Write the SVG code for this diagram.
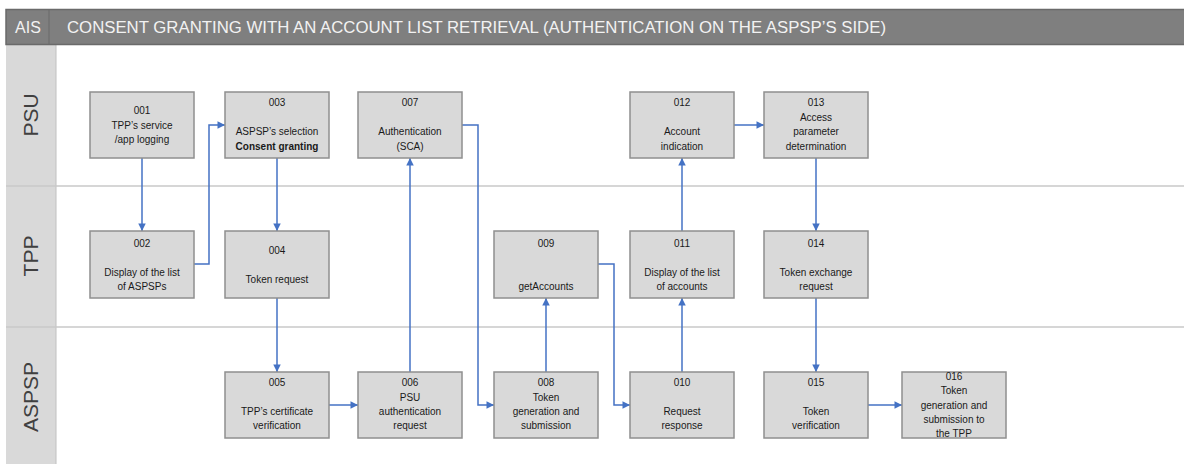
<svg xmlns="http://www.w3.org/2000/svg" width="1184" height="464" viewBox="0 0 1184 464">
<style>
.box{fill:#d9d9d9;stroke:#8f8f8f;stroke-width:1.5}
.t{font-family:"Liberation Sans",Arial,sans-serif;font-size:10px;fill:#1a1a1a;text-anchor:middle}
.b{font-weight:bold}
.lane{font-family:"Liberation Sans",Arial,sans-serif;font-size:21px;fill:#404040;text-anchor:middle}
.hdr{font-family:"Liberation Sans",Arial,sans-serif;font-size:16px;fill:#f2f2f2}
.c{fill:none;stroke:#4472c4;stroke-width:1.5}
.sep{stroke:#c8c8c8;stroke-width:1.5}
</style>
<defs>
<marker id="ah" viewBox="0 0 10 10" refX="10" refY="5" markerWidth="8" markerHeight="7.5" markerUnits="userSpaceOnUse" orient="auto"><path d="M0,0 L10,5 L0,10 z" fill="#4472c4"/></marker>
</defs>
<rect x="0" y="0" width="1184" height="464" fill="#ffffff"/>
<!-- lane label column -->
<rect x="6" y="45" width="50" height="419" fill="#d9d9d9"/>
<line x1="56" y1="45" x2="56" y2="464" stroke="#c0c0c0" stroke-width="1"/>
<line class="sep" x1="6" y1="186" x2="1184" y2="186"/>
<line class="sep" x1="6" y1="327" x2="1184" y2="327"/>
<!-- header -->
<rect x="6" y="9.5" width="1180" height="35" fill="#7f7f7f" stroke="#6a6a6a" stroke-width="1.5"/>
<line x1="49" y1="10" x2="49" y2="44" stroke="#6a6a6a" stroke-width="1"/>
<text class="hdr" x="28" y="33" text-anchor="middle">AIS</text>
<text class="hdr" x="67" y="33" textLength="819" lengthAdjust="spacingAndGlyphs">CONSENT GRANTING WITH AN ACCOUNT LIST RETRIEVAL (AUTHENTICATION ON THE ASPSP’S SIDE)</text>
<!-- lane labels -->
<text class="lane" transform="translate(38,115) rotate(-90)">PSU</text>
<text class="lane" transform="translate(38,256) rotate(-90)">TPP</text>
<text class="lane" transform="translate(38,397) rotate(-90)">ASPSP</text>
<!-- connectors -->
<g id="connectors">
<path class="c" d="M142,158 V231" marker-end="url(#ah)"/>
<path class="c" d="M194,264 H209 V125 H225" marker-end="url(#ah)"/>
<path class="c" d="M277,158 V231" marker-end="url(#ah)"/>
<path class="c" d="M277,298 V372" marker-end="url(#ah)"/>
<path class="c" d="M328,405 H358" marker-end="url(#ah)"/>
<path class="c" d="M410,372 V158" marker-end="url(#ah)"/>
<path class="c" d="M462,125 H478 V405 H494" marker-end="url(#ah)"/>
<path class="c" d="M546,372 V298" marker-end="url(#ah)"/>
<path class="c" d="M598,264 H614 V405 H630" marker-end="url(#ah)"/>
<path class="c" d="M682,372 V298" marker-end="url(#ah)"/>
<path class="c" d="M682,231 V158" marker-end="url(#ah)"/>
<path class="c" d="M734,125 H764" marker-end="url(#ah)"/>
<path class="c" d="M816,158 V231" marker-end="url(#ah)"/>
<path class="c" d="M816,298 V372" marker-end="url(#ah)"/>
<path class="c" d="M868,405 H902" marker-end="url(#ah)"/>
</g>
<!-- nodes -->
<g id="n001"><rect class="box" x="90" y="92" width="104" height="66"/>
<text class="t" x="142" y="114">001</text><text class="t" x="142" y="128.5">TPP’s service</text><text class="t" x="142" y="143">/app logging</text></g>
<g id="n002"><rect class="box" x="90" y="231" width="104" height="67"/>
<text class="t" x="142" y="246.5">002</text><text class="t" x="142" y="275.5">Display of the list</text><text class="t" x="142" y="290">of ASPSPs</text></g>
<g id="n003"><rect class="box" x="225" y="92" width="104" height="66"/>
<text class="t" x="277" y="106">003</text><text class="t" x="277" y="135">ASPSP’s selection</text><text class="t b" x="277" y="149.5">Consent granting</text></g>
<g id="n004"><rect class="box" x="225" y="231" width="104" height="67"/>
<text class="t" x="277" y="254">004</text><text class="t" x="277" y="282.5">Token request</text></g>
<g id="n005"><rect class="box" x="225" y="372" width="104" height="66"/>
<text class="t" x="277" y="386">005</text><text class="t" x="277" y="415">TPP’s certificate</text><text class="t" x="277" y="429">verification</text></g>
<g id="n006"><rect class="box" x="358" y="372" width="104" height="66"/>
<text class="t" x="410" y="386">006</text><text class="t" x="410" y="400.5">PSU</text><text class="t" x="410" y="415">authentication</text><text class="t" x="410" y="429">request</text></g>
<g id="n007"><rect class="box" x="358" y="92" width="104" height="66"/>
<text class="t" x="410" y="106">007</text><text class="t" x="410" y="135">Authentication</text><text class="t" x="410" y="149.5">(SCA)</text></g>
<g id="n008"><rect class="box" x="494" y="372" width="104" height="66"/>
<text class="t" x="546" y="386">008</text><text class="t" x="546" y="400.5">Token</text><text class="t" x="546" y="415">generation and</text><text class="t" x="546" y="429">submission</text></g>
<g id="n009"><rect class="box" x="494" y="231" width="104" height="67"/>
<text class="t" x="546" y="246.5">009</text><text class="t" x="546" y="290">getAccounts</text></g>
<g id="n010"><rect class="box" x="630" y="372" width="104" height="66"/>
<text class="t" x="682" y="386">010</text><text class="t" x="682" y="415">Request</text><text class="t" x="682" y="429">response</text></g>
<g id="n011"><rect class="box" x="630" y="231" width="104" height="67"/>
<text class="t" x="682" y="246.5">011</text><text class="t" x="682" y="275.5">Display of the list</text><text class="t" x="682" y="290">of accounts</text></g>
<g id="n012"><rect class="box" x="630" y="92" width="104" height="66"/>
<text class="t" x="682" y="106">012</text><text class="t" x="682" y="135">Account</text><text class="t" x="682" y="149.5">indication</text></g>
<g id="n013"><rect class="box" x="764" y="92" width="104" height="66"/>
<text class="t" x="816" y="106">013</text><text class="t" x="816" y="120.5">Access</text><text class="t" x="816" y="135">parameter</text><text class="t" x="816" y="149.5">determination</text></g>
<g id="n014"><rect class="box" x="764" y="231" width="104" height="67"/>
<text class="t" x="816" y="246.5">014</text><text class="t" x="816" y="275.5">Token exchange</text><text class="t" x="816" y="290">request</text></g>
<g id="n015"><rect class="box" x="764" y="372" width="104" height="66"/>
<text class="t" x="816" y="386">015</text><text class="t" x="816" y="415">Token</text><text class="t" x="816" y="429">verification</text></g>
<g id="n016"><rect class="box" x="902" y="372" width="104" height="66"/>
<text class="t" x="954" y="380">016</text><text class="t" x="954" y="394">Token</text><text class="t" x="954" y="408.5">generation and</text><text class="t" x="954" y="422.5">submission to</text><text class="t" x="954" y="436.5">the TPP</text></g>
</svg>
